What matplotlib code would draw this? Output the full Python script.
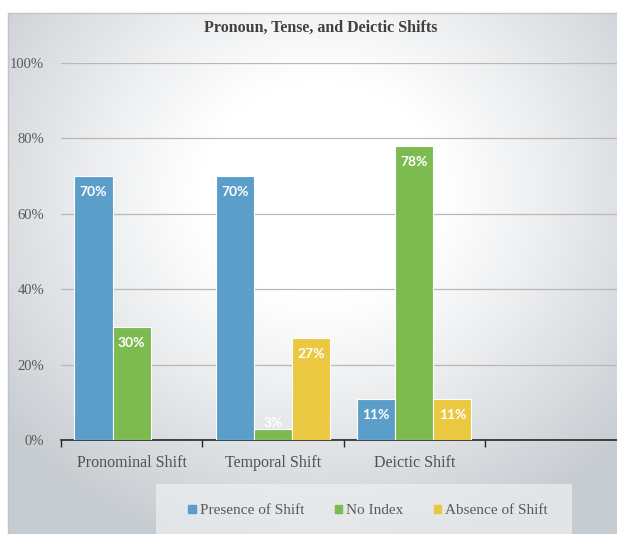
import numpy as np
import matplotlib
matplotlib.use("Agg")
import matplotlib.pyplot as plt
from matplotlib.patches import Rectangle

# ---------------- data ----------------
categories = ["Pronominal Shift", "Temporal Shift", "Deictic Shift"]
series_names = ["Presence of Shift", "No Index", "Absence of Shift"]
presence = [0.70, 0.70, 0.11]
no_index = [0.30, 0.03, 0.78]
absence = [None, 0.27, 0.11]
y_ticks = [0, 0.2, 0.4, 0.6, 0.8, 1.0]
y_tick_labels = ["0%", "20%", "40%", "60%", "80%", "100%"]
n_slots = 4  # the chart has an empty fourth category slot

colors = ["#5b9ec9", "#7dbb51", "#ebc842"]
title = "Pronoun, Tense, and Deictic Shifts"

W, H = 617, 534
fig = plt.figure(figsize=(W / 100, H / 100), dpi=100)
fig.patch.set_facecolor("white")

# ---------------- gradient background ----------------
fx0, fy_top = 8, 13
bg = fig.add_axes([fx0 / W, 0, 1 - fx0 / W, (H - fy_top) / H], zorder=-5)
yy, xx = np.mgrid[fy_top:H, fx0:W]
d = np.sqrt(((xx - 320) / 340.0) ** 2 + ((yy - 190) / 310.0) ** 2)
t = np.clip((d - 0.35) / 0.85, 0, 1) ** 1.1
edge = np.array([0.78, 0.80, 0.82])
img = (1 - t[..., None]) * np.array([1.0, 1.0, 1.0]) + t[..., None] * edge
bg.imshow(img, aspect="auto", interpolation="bilinear")
bg.axis("off")
fig.add_artist(Rectangle((fx0 / W, 0), 1, (H - fy_top) / H, transform=fig.transFigure,
                         fill=False, edgecolor="#c4c4c4", lw=1.0, zorder=-4))

# ---------------- main axes ----------------
slot = 141.3
ax = fig.add_axes([61 / W, (H - 440) / H, n_slots * slot / W, (440 - 63) / H])
ax.set_facecolor("none")

bw = 0.27
x = np.arange(len(categories))
all_series = [presence, no_index, absence]
for i, (vals, c) in enumerate(zip(all_series, colors)):
    for xi, v in zip(x, vals):
        if v is None:
            continue
        xpos = xi + (i - 1) * bw
        ax.bar(xpos, v, width=bw, color=c, edgecolor="white", linewidth=0.8, zorder=3)
        # label inside end, or just above for very short bars
        off = -16 if v * 377 > 30 else 6
        ax.annotate(f"{round(v * 100)}%", (xpos, v), xytext=(0, off * 0.72),
                    textcoords="offset points", ha="center", va="center",
                    color="white", fontsize=10, fontweight="bold",
                    family=["Lato", "DejaVu Sans"], zorder=4)

ax.set_xlim(-0.5, n_slots - 0.5)
ax.set_ylim(0, 1)
ax.set_yticks(y_ticks)
ax.set_yticklabels(y_tick_labels, family="Liberation Serif", fontsize=10.5, color="#595959")
ax.tick_params(axis="y", length=0, pad=12)
ax.yaxis.grid(True, color="#b8b8b8", lw=0.9, zorder=0)
ax.set_axisbelow(True)

ax.set_xticks(x)
ax.set_xticklabels(categories, family="Liberation Serif", fontsize=11.5, color="#505050")
ax.set_xticks(np.arange(-0.5, n_slots, 1.0), minor=True)
ax.tick_params(axis="x", which="major", length=0, pad=11)
ax.tick_params(axis="x", which="minor", length=5, width=1.0, color="#262626", direction="out")

for s in ["top", "right", "left"]:
    ax.spines[s].set_visible(False)
ax.spines["bottom"].set_color("#262626")
ax.spines["bottom"].set_linewidth(1.2)

fig.text(321 / W, 1 - 28 / H, title, ha="center", va="center",
         family="Liberation Serif", fontsize=11.5, fontweight="bold", color="#404040")

# ---------------- legend ----------------
fig.add_artist(Rectangle((156 / W, 0), (572 - 156) / W, (H - 484) / H,
                         transform=fig.transFigure, facecolor="#eef0f1",
                         alpha=0.7, edgecolor="none", zorder=1))
handles = [Rectangle((0, 0), 1, 1, color=c) for c in colors]
leg = fig.legend(handles, series_names, loc="center", ncol=3,
                 bbox_to_anchor=(368 / W, (H - 511) / H), frameon=False,
                 prop={"family": "Liberation Serif", "size": 11},
                 handlelength=0.5, handleheight=0.5, handletextpad=0.25,
                 columnspacing=2.0, labelcolor="#595959")
leg.set_zorder(2)

fig.savefig("out.png", dpi=100)
